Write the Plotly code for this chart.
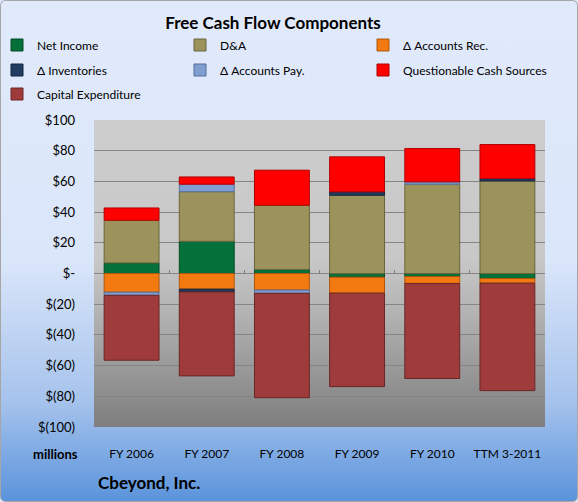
import base64
import plotly.graph_objects as go

years = ["FY 2006", "FY 2007", "FY 2008", "FY 2009", "FY 2010", "TTM 3-2011"]
net_income = [6.9, 21.0, 2.6, -2.4, -2.0, -3.3]
dna = [27.8, 32.3, 41.9, 51.0, 58.2, 60.3]
acct_rec = [-12.2, -10.2, -10.8, -10.4, -4.5, -3.0]
inventories = [None, -1.8, None, 2.2, None, 1.6]
acct_pay = [-2.0, 4.9, -2.1, None, 1.5, None]
questionable = [8.0, 4.7, 22.8, 22.8, 21.7, 22.1]
capex = [-42.3, -54.7, -68.0, -60.9, -61.9, -70.0]

y_ticks = [100, 80, 60, 40, 20, 0, -20, -40, -60, -80, -100]
y_labels = ["$100", "$80", "$60", "$40", "$20", "$-", "$(20)", "$(40)", "$(60)", "$(80)", "$(100)"]

W, H = 578, 502
L, R, T, B = 94, 33, 120, 75
pw, ph = W - L - R, H - T - B
FONT = "Lato"


def svg_uri(svg):
    return "data:image/svg+xml;base64," + base64.b64encode(svg.encode()).decode()


paper_svg = (
    '<svg xmlns="http://www.w3.org/2000/svg" width="578" height="502" preserveAspectRatio="none">'
    '<defs><linearGradient id="g" x1="0" y1="0" x2="0" y2="1">'
    '<stop offset="0" stop-color="#e1eafb"/><stop offset="0.52" stop-color="#dae6fa"/>'
    '<stop offset="0.8" stop-color="#a6c3ec"/><stop offset="1" stop-color="#5a93db"/>'
    '</linearGradient></defs>'
    '<rect x="0.5" y="0.5" width="577" height="501" rx="5" fill="url(#g)" stroke="#a6a6a6"/></svg>'
)
plot_svg = (
    '<svg xmlns="http://www.w3.org/2000/svg" width="451" height="307" preserveAspectRatio="none">'
    '<defs><linearGradient id="p" x1="0" y1="0" x2="0" y2="1">'
    '<stop offset="0" stop-color="#cdcdcd"/><stop offset="0.45" stop-color="#c8c8c8"/>'
    '<stop offset="0.62" stop-color="#b4b4b4"/><stop offset="1" stop-color="#7e7e7e"/>'
    '</linearGradient></defs><rect width="451" height="307" fill="url(#p)"/></svg>'
)

# name, values, fill, edge, legend column x (px), legend row y (px)
series = [
    ("Net Income", net_income, "#05703a", "#034a26", 9, 45),
    ("D&A", dna, "#9c935c", "#6b653d", 192, 45),
    ("Δ Accounts Rec.", acct_rec, "#f37a11", "#b0560a", 375, 45),
    ("Δ Inventories", inventories, "#213b63", "#13243e", 9, 70),
    ("Δ Accounts Pay.", acct_pay, "#809fd0", "#546f9c", 192, 70),
    ("Questionable Cash Sources", questionable, "#ff0000", "#b00000", 375, 70),
    ("Capital Expenditure", capex, "#9f3b3b", "#6a2626", 9, 94),
]

fig = go.Figure()
legends = {}
for i, (name, vals, col, edge, lx, ly) in enumerate(series):
    leg = "legend" if i == 0 else "legend%d" % (i + 1)
    fig.add_trace(go.Bar(x=years, y=vals, name=name, legend=leg, showlegend=True,
                         marker=dict(color=col, line=dict(color=edge, width=1))))
    legends[leg] = dict(xref="container", yref="container", x=lx / W, y=1 - ly / H,
                        xanchor="left", yanchor="middle", bgcolor="rgba(0,0,0,0)",
                        indentation=-12,
                        font=dict(family=FONT, size=12, color="#000"))

# helper so the tick axis at the zero line is drawn
fig.add_trace(go.Scatter(x=[], y=[], xaxis="x2", showlegend=False, hoverinfo="skip"))

fig.update_layout(
    width=W, height=H, showlegend=True,
    margin=dict(l=L, r=R, t=T, b=B, autoexpand=False),
    barmode="relative", bargap=0.27,
    paper_bgcolor="#dde7f9", plot_bgcolor="rgba(0,0,0,0)",
    font=dict(family=FONT, color="#000"),
    title=dict(text="<b>Free Cash Flow Components</b>", x=273 / W, xanchor="center",
               xref="container", yref="container", y=1 - 23 / H, yanchor="middle",
               font=dict(family=FONT, size=17, color="#000")),
    xaxis=dict(type="category", ticks="", showgrid=False, showline=False,
               tickfont=dict(family=FONT, size=12), ticklabelstandoff=18),
    xaxis2=dict(overlaying="x", anchor="free", position=0.5, range=[-0.5, 5.5],
                tickvals=[-0.5, 0.5, 1.5, 2.5, 3.5, 4.5, 5.5], ticks="inside", ticklen=4,
                tickcolor="#7f7f7f", showticklabels=False, showgrid=False,
                zeroline=False, showline=False, fixedrange=True),
    yaxis=dict(range=[-100, 100], tickvals=y_ticks, ticktext=y_labels,
               gridcolor="#858585", gridwidth=1, zeroline=False, showline=False,
               ticks="", ticklabelstandoff=18, tickfont=dict(family=FONT, size=13)),
    images=[
        dict(source=svg_uri(paper_svg), xref="paper", yref="paper",
             x=-L / pw, y=1 + T / ph, sizex=W / pw, sizey=H / ph,
             xanchor="left", yanchor="top", sizing="stretch", layer="below"),
        dict(source=svg_uri(plot_svg), xref="paper", yref="paper",
             x=0, y=1, sizex=1, sizey=1,
             xanchor="left", yanchor="top", sizing="stretch", layer="below"),
    ],
    annotations=[
        dict(text="<b>millions</b>", xref="paper", yref="paper", x=-14 / pw, y=-27 / ph,
             xanchor="right", yanchor="middle", showarrow=False,
             font=dict(family=FONT, size=13)),
        dict(text="<b>Cbeyond, Inc.</b>", xref="paper", yref="paper", x=2 / pw, y=-55 / ph,
             xanchor="left", yanchor="middle", showarrow=False,
             font=dict(family=FONT, size=17)),
    ],
)
fig.update_layout(**legends)

fig.write_html("out.html", config={"displayModeBar": False},
               post_script="document.body.style.margin='0';")
